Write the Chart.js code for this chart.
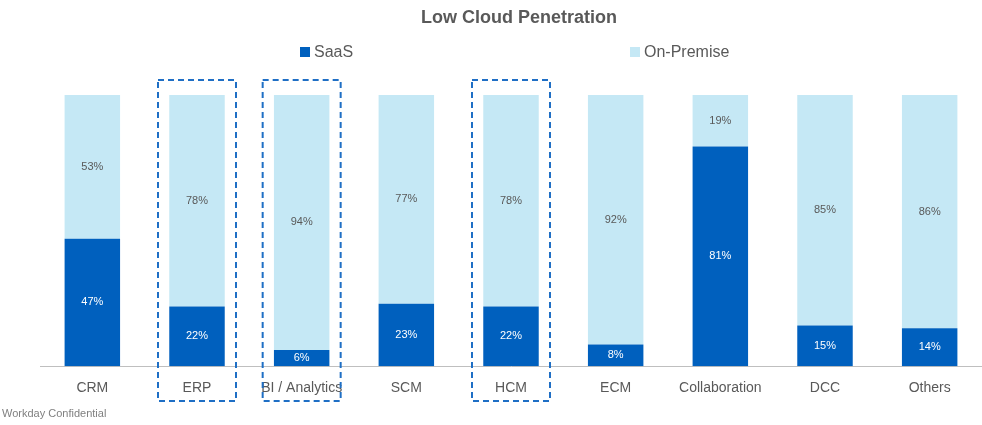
<!DOCTYPE html>
<html><head><meta charset="utf-8">
<script src="https://cdn.jsdelivr.net/npm/chart.js@4"></script>
<style>body{margin:0;background:#fff}#wrap{width:982px;height:425px;position:relative}</style>
</head><body><div id="wrap"><canvas id="c"></canvas></div>
<script>
const categories = ["CRM", "ERP", "BI / Analytics", "SCM", "HCM", "ECM", "Collaboration", "DCC", "Others"];
const saas = [47, 22, 6, 23, 22, 8, 81, 15, 14];
const onPremise = [53, 78, 94, 77, 78, 92, 19, 85, 86];
const highlighted = ["ERP", "BI / Analytics", "HCM"];

const DARK = "#0060BE", LIGHT = "#C5E8F5";

// labels, dashed boxes, custom legend and footer
const extras = {
    id: "extras",
    afterDatasetsDraw(chart) {
        const ctx = chart.ctx;
        ctx.save();
        ctx.font = "11px Arial, 'Liberation Sans'";
        ctx.textAlign = "center";
        ctx.textBaseline = "middle";
        chart.data.datasets.forEach((ds, di) => {
            chart.getDatasetMeta(di).data.forEach((bar, i) => {
                ctx.fillStyle = di === 0 ? "#ffffff" : "#595959";
                ctx.fillText(ds.data[i] + "%", bar.x, (bar.y + bar.base) / 2);
            });
        });
        // dashed boxes
        const x = chart.scales.x;
        ctx.strokeStyle = "#1F6FC5";
        ctx.lineWidth = 2;
        ctx.setLineDash([6, 4]);
        highlighted.forEach(name => {
            const cx = x.getPixelForValue(categories.indexOf(name));
            ctx.strokeRect(cx - 39, 80, 78, 321);
        });
        ctx.setLineDash([]);
        // title
        ctx.fillStyle = "#595959";
        ctx.font = "bold 18px Arial, 'Liberation Sans'";
        ctx.fillText("Low Cloud Penetration", 519, 18);
        // legend
        ctx.font = "16px Arial, 'Liberation Sans'";
        ctx.textAlign = "left";
        ctx.fillStyle = DARK;
        ctx.fillRect(300, 47, 10, 10);
        ctx.fillStyle = "#595959";
        ctx.fillText("SaaS", 314, 53);
        ctx.fillStyle = LIGHT;
        ctx.fillRect(630, 47, 10, 10);
        ctx.fillStyle = "#595959";
        ctx.fillText("On-Premise", 644, 53);
        // footer
        ctx.font = "11px Arial, 'Liberation Sans'";
        ctx.fillStyle = "#808080";
        ctx.fillText("Workday Confidential", 2, 414);
        ctx.restore();
    }
};

new Chart(document.getElementById("c"), {
    type: "bar",
    data: {
        labels: categories,
        datasets: [
            { label: "SaaS", data: saas, backgroundColor: DARK },
            { label: "On-Premise", data: onPremise, backgroundColor: LIGHT }
        ]
    },
    options: {
        responsive: true,
        maintainAspectRatio: false,
        animation: false,
        datasets: { bar: { categoryPercentage: 0.53, barPercentage: 1 } },
        layout: { padding: { top: 95, left: 40, right: 0, bottom: 22 } },
        plugins: { legend: { display: false }, tooltip: { enabled: false } },
        scales: {
            x: {
                stacked: true,
                grid: { display: false },
                border: { color: "#BFBFBF" },
                ticks: { color: "#595959", font: { size: 14, family: "Arial, 'Liberation Sans'" }, padding: 6 }
            },
            y: { stacked: true, min: 0, max: 100, display: false }
        }
    },
    plugins: [extras]
});
</script></body></html>
